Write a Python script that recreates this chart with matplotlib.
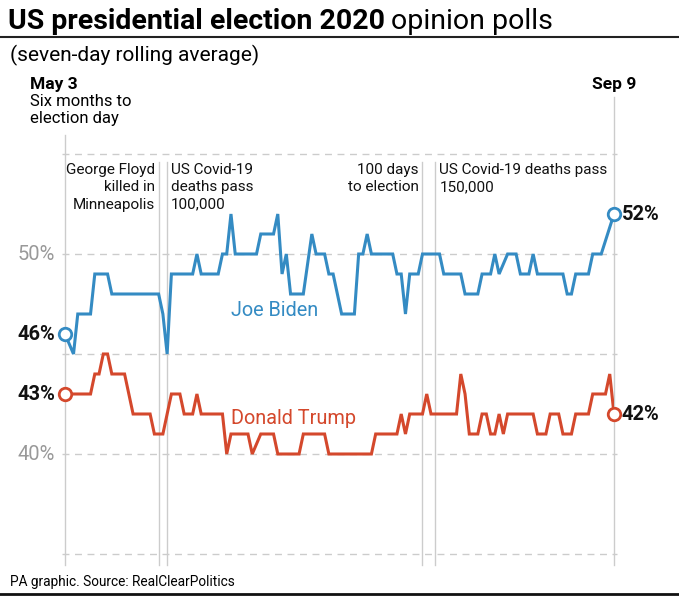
import pandas as pd
import matplotlib
matplotlib.use('Agg')
import matplotlib.pyplot as plt

plt.rcParams['font.family'] = ['Roboto', 'DejaVu Sans']

start = pd.Timestamp('2020-05-03')
end = pd.Timestamp('2020-09-09')

# turning points of each poll line, as days after May 3 and percent
biden_days = [0, 2, 3, 6, 7, 10, 11, 22, 23, 24, 25, 30, 31, 32, 36, 37, 38, 39, 40,
              45, 46, 49, 50, 51, 52, 53, 56, 58, 59, 61, 62, 63, 65, 68, 69, 70, 71,
              72, 77, 78, 79, 80, 81, 83, 84, 88, 89, 93, 94, 97, 98, 100, 101, 102,
              104, 106, 107, 109, 110, 111, 117, 118, 119, 120, 123, 124, 126, 129]
biden_vals = [46, 45, 47, 47, 49, 49, 48, 48, 47, 45, 49, 49, 50, 49, 49, 50, 50, 52, 50,
              50, 51, 51, 52, 49, 50, 48, 48, 51, 50, 50, 49, 49, 47, 47, 50, 50, 51,
              50, 50, 49, 49, 47, 49, 49, 50, 50, 49, 49, 48, 48, 49, 49, 50, 49,
              50, 50, 49, 49, 50, 49, 49, 48, 48, 49, 49, 50, 50, 52]

trump_days = [0, 6, 7, 8, 9, 10, 11, 14, 16, 20, 21, 23, 25, 27, 28, 30, 31, 32, 37, 38,
              39, 43, 44, 46, 49, 50, 55, 56, 61, 62, 72, 73, 78, 79, 80, 81, 84, 85,
              86, 92, 93, 94, 95, 97, 98, 99, 100, 101, 102, 103, 104, 110, 111, 113,
              114, 116, 117, 119, 120, 123, 124, 127, 128, 129]
trump_vals = [43, 43, 44, 44, 45, 45, 44, 44, 42, 42, 41, 41, 43, 43, 42, 42, 43, 42, 42, 40,
              41, 41, 40, 41, 41, 40, 40, 41, 41, 40, 40, 41, 41, 42, 41, 42, 42, 43,
              42, 42, 44, 43, 41, 41, 42, 42, 41, 41, 42, 41, 42, 42, 41, 41,
              42, 42, 41, 41, 42, 42, 43, 43, 44, 42]

grid_levels = [35, 40, 45, 50, 55]
axis_labels = {50: '50%', 40: '40%'}

events = [
    ('2020-05-25', 'George Floyd\nkilled in\nMinneapolis', 'right'),
    ('2020-05-27', 'US Covid-19\ndeaths pass\n100,000', 'left'),
    ('2020-07-26', '100 days\nto election', 'right'),
    ('2020-07-29', 'US Covid-19 deaths pass\n150,000', 'left'),
]

blue = '#348bc3'
red = '#d4482c'
light = '#cccccc'
total = (end - start).days

fig = plt.figure(figsize=(6.79, 6.0), dpi=100)
ax = fig.add_axes([65 / 679, 1 - 565 / 600, 549 / 679, 468 / 600])
ax.set_xlim(0, total)
ax.set_ylim(34.45, 57.85)
ax.axis('off')

for lv in grid_levels:
    ax.plot([-0.7, total + 0.7], [lv, lv], color=light, lw=1, dashes=(5, 4),
            clip_on=False, zorder=1)

# start and end markers
ax.plot([0, 0], [34.45, 55.95], color=light, lw=1, clip_on=False, zorder=1)
ax.plot([total, total], [34.45, 57.85], color=light, lw=1, clip_on=False, zorder=1)

for date, label, side in events:
    d = (pd.Timestamp(date) - start).days
    ax.plot([d, d], [34.45, 54.6], color=light, lw=1, clip_on=False, zorder=1)
    off = -4 if side == 'right' else 4
    ax.annotate(label, (d, 54.6), xytext=(off, -1), textcoords='offset pixels',
                ha=side, va='top', fontsize=11, linespacing=1.3, color='#111111')

ax.plot(biden_days, biden_vals, color=blue, lw=2.2, zorder=3, solid_joinstyle='miter')
ax.plot(trump_days, trump_vals, color=red, lw=2.2, zorder=3, solid_joinstyle='miter')

for days, vals, col in [(biden_days, biden_vals, blue), (trump_days, trump_vals, red)]:
    ax.plot([days[0], days[-1]], [vals[0], vals[-1]], 'o', mfc='white', mec=col,
            ms=9, mew=2, zorder=4, clip_on=False)
    ax.annotate(f'{vals[0]}%', (days[0], vals[0]), xytext=(-10, 0),
                textcoords='offset pixels', ha='right', va='center',
                fontsize=14.5, fontweight='bold', color='#111111')
    ax.annotate(f'{vals[-1]}%', (days[-1], vals[-1]), xytext=(8, 0),
                textcoords='offset pixels', ha='left', va='center',
                fontsize=14.5, fontweight='bold', color='#111111')

for lv, txt in axis_labels.items():
    ax.annotate(txt, (0, lv), xytext=(-10, 0), textcoords='offset pixels',
                ha='right', va='center', fontsize=14.5, color='#999999')

ax.text(39, 47.15, 'Joe Biden', color=blue, fontsize=14.3, va='center', ha='left')
ax.text(39, 41.8, 'Donald Trump', color=red, fontsize=14.3, va='center', ha='left')

# header and footer
t1 = fig.text(8 / 679, 1 - 29 / 600, 'US presidential election 2020', fontsize=20.5,
              fontweight='bold', ha='left', va='baseline')
fig.canvas.draw()
bb = t1.get_window_extent()
fig.text(bb.x1 / 679 + 0.009, 1 - 29 / 600, 'opinion polls', fontsize=20.5,
         ha='left', va='baseline')
fig.add_artist(plt.Line2D([0, 1], [1 - 37 / 600] * 2, color='#222222', lw=1.5))
fig.text(10 / 679, 1 - 55 / 600, '(seven-day rolling average)', fontsize=15,
         ha='left', va='center')

fig.text(30 / 679, 1 - 85 / 600, 'May 3', fontsize=12.5, fontweight='bold',
         ha='left', va='center')
fig.text(30 / 679, 1 - 94 / 600, 'Six months to\nelection day', fontsize=12,
         ha='left', va='top', linespacing=1.2)
fig.text(614 / 679, 1 - 85 / 600, 'Sep 9', fontsize=12.5, fontweight='bold',
         ha='center', va='center')

fig.text(10 / 679, 1 - 582 / 600, 'PA graphic. Source: RealClearPolitics', fontsize=9.8,
         ha='left', va='center')
fig.add_artist(plt.Line2D([0, 1], [1 - 594 / 600] * 2, color='#111111', lw=2))

fig.savefig('out.png', dpi=100, facecolor='white')
